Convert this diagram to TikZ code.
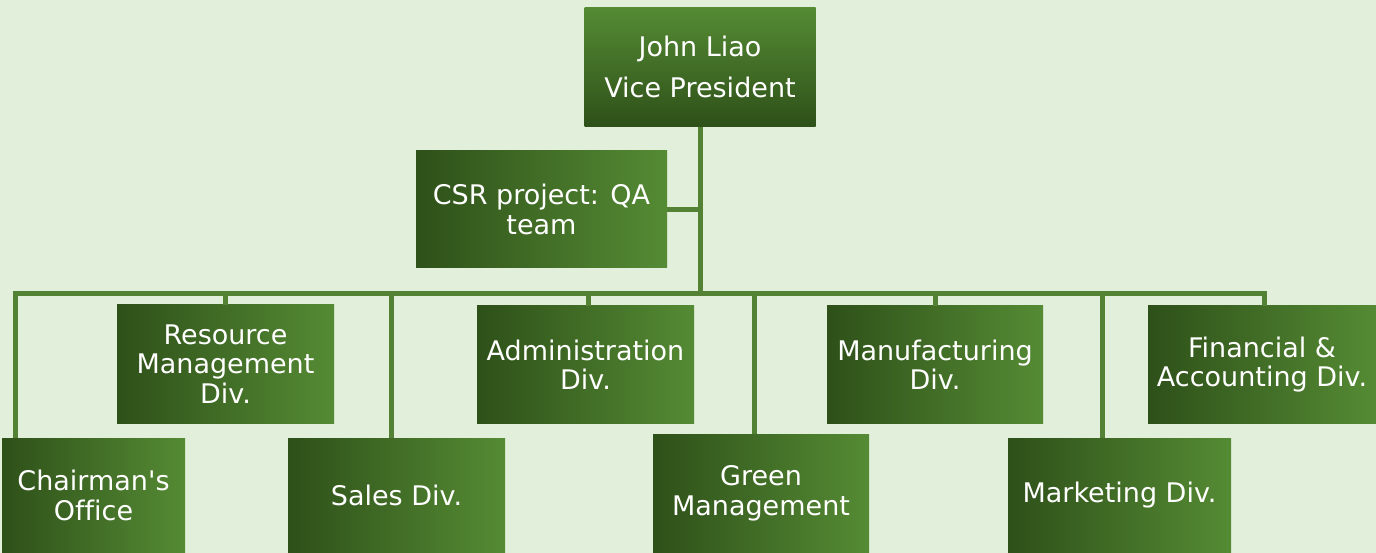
\documentclass[tikz,border=0pt]{standalone}
\usepackage{fontspec}
\newfontfamily\boxfont{DejaVu Sans}[Ligatures=CommonOff]
\usetikzlibrary{calc}
\definecolor{bgc}{RGB}{226,239,218}
\definecolor{dk}{RGB}{46,80,25}
\definecolor{lt}{RGB}{85,139,52}
\definecolor{ln}{RGB}{84,130,53}
\tikzset{
  boxbase/.style={rectangle, inner sep=0pt, text=white, align=center, font=\boxfont\fontsize{27}{29.5}\selectfont},
  hbox/.style={boxbase, left color=dk, right color=lt},
  vbox/.style={boxbase, top color=lt, bottom color=dk, font=\boxfont\fontsize{27}{41}\selectfont},
  conn/.style={draw=ln, line width=5pt, line join=miter},
}
\begin{document}
\begin{tikzpicture}[x=1pt,y=-1pt]
\fill[bgc] (0,0) rectangle (1376,553);
\useasboundingbox (0,0) rectangle (1376,553);
\coordinate (bar) at (700,294);
\node[vbox, minimum width=231pt, minimum height=119pt] (vp) at (700,67) {John Liao\\Vice President};
\node[hbox, minimum width=251pt, minimum height=117pt] (csr) at (541.5,209.5) {CSR project: QA\\team};
\node[hbox, minimum width=217pt, minimum height=118pt] (res) at (225.5,364) {Resource\\Management\\Div.};
\node[hbox, minimum width=217pt, minimum height=117pt] (adm) at (585.5,364.5) {Administration\\Div.};
\node[hbox, minimum width=216pt, minimum height=117pt] (man) at (935,364.5) {Manufacturing\\Div.};
\node[hbox, minimum width=228pt, minimum height=117pt] (fin) at (1262,364.5) {Financial \&\\Accounting Div.};
\node[hbox, minimum width=183pt, minimum height=115pt] (chr) at (93.5,495.5) {Chairman's\\Office};
\node[hbox, minimum width=217pt, minimum height=115pt] (sal) at (396.5,495.5) {Sales Div.};
\node[hbox, minimum width=216pt, minimum height=119pt] (grn) at (761,493.5) {Green\\Management};
\node[hbox, minimum width=223pt, minimum height=115pt] (mkt) at (1119.5,495.5) {Marketing Div.};
\draw[conn] (vp.south) -- (vp.south |- bar);
\draw[conn] (csr.east) -- (csr.east -| vp.south);
\draw[conn] ([xshift=-78.5pt]chr.north) |- ([xshift=2pt]fin.north |- bar) -- ([xshift=2pt]fin.north);
\draw[conn] (res.north) -- (res.north |- bar);
\draw[conn] ([xshift=-5.5pt]sal.north) -- ([xshift=-5.5pt]sal.north |- bar);
\draw[conn] ([xshift=2.5pt]adm.north) -- ([xshift=2.5pt]adm.north |- bar);
\draw[conn] ([xshift=-7pt]grn.north) -- ([xshift=-7pt]grn.north |- bar);
\draw[conn] (man.north) -- (man.north |- bar);
\draw[conn] ([xshift=-17.5pt]mkt.north) -- ([xshift=-17.5pt]mkt.north |- bar);
\end{tikzpicture}
\end{document}
